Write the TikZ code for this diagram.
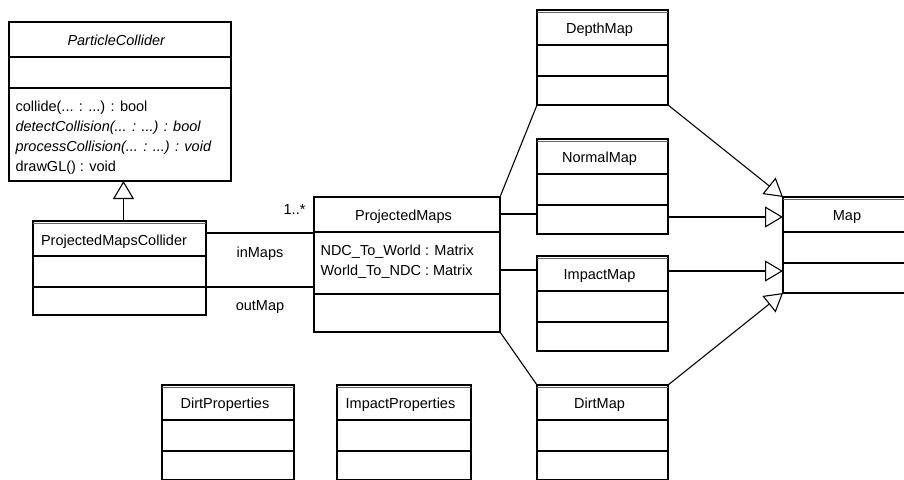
\documentclass[tikz,border=0pt]{standalone}
\usepackage{fontspec}
\setmainfont{Liberation Sans}
\usetikzlibrary{arrows.meta,positioning}

\tikzset{
	cls/.style={draw,anchor=north west,inner sep=0pt,outer sep=0pt},
	title/.style={anchor=base,inner sep=0pt},
	member/.style={anchor=base west,inner sep=0pt},
	lbl/.style={inner sep=0pt},
	isa/.style={-{Triangle[open,length=18pt,width=21pt]}},
}

\begin{document}
\begin{tikzpicture}[x=1pt,y=-1pt,line width=1.1pt,font=\fontsize{14.5}{20}\selectfont]
	\useasboundingbox (0,0) rectangle (904,479);
	\clip (0,0) rectangle (904,479);

	% class boxes
	\node[cls,minimum width=222,minimum height=159] (pc) at (9,22) {};
	\node[cls,minimum width=173,minimum height=94] (pmc) at (33,221) {};
	\node[cls,minimum width=186,minimum height=135] (pm) at (314,197) {};
	\node[cls,minimum width=134,minimum height=96] (map) at (783,197) {};
	\node[cls,minimum width=132,minimum height=95] (dirtprop) at (162,385) {};
	\node[cls,minimum width=134,minimum height=95] (impactprop) at (337,385) {};
	\foreach \n/\t/\y in {depth/DepthMap/10,normal/NormalMap/139,impact/ImpactMap/256,dirt/DirtMap/385}
	{
		\node[cls,minimum width=131,minimum height=95] (\n) at (537,\y) {};
		\node[title] (\n-t) at ([xshift=-3,yshift=-23.5]\n.north) {\t};
	}

	% compartments
	\foreach \c in {pc,pmc,depth,normal,impact,dirt,map,dirtprop,impactprop}
	{
		\draw ([yshift=-35]\c.north west) -- ([yshift=-35]\c.north east);
		\draw ([yshift=-66]\c.north west) -- ([yshift=-66]\c.north east);
	}
	\draw ([yshift=-35]pm.north west) -- ([yshift=-35]pm.north east);
	\draw ([yshift=-97]pm.north west) -- ([yshift=-97]pm.north east);
	\foreach \c in {pmc,depth,normal,impact,dirt,map,dirtprop,impactprop}
		\draw[line width=0.5pt,black!60] ([yshift=-2.6]\c.north west) -- ([yshift=-2.6]\c.north east);

	% titles and members
	\node[title] (pc-t) at ([xshift=-3.5,yshift=-23.5]pc.north) {\textit{ParticleCollider}};
	\node[member] (pc-op1) at ([xshift=6,yshift=-89]pc.north west) {collide(... : ...) : bool};
	\node[member] (pc-op2) at ([xshift=6,yshift=-109]pc.north west) {\textit{detectCollision(... : ...) : bool}};
	\node[member] (pc-op3) at ([xshift=6,yshift=-129]pc.north west) {\textit{processCollision(... : ...) : void}};
	\node[member] (pc-op4) at ([xshift=6,yshift=-149]pc.north west) {drawGL() : void};
	\node[member] (pmc-t) at ([xshift=7.5,yshift=-24]pmc.north west) {ProjectedMapsCollider};
	\node[title] (pm-t) at ([xshift=-3.5,yshift=-23.5]pm.north) {ProjectedMaps};
	\node[member] (pm-a1) at ([xshift=6,yshift=-58]pm.north west) {NDC\_To\_World : Matrix};
	\node[member] (pm-a2) at ([xshift=6,yshift=-78]pm.north west) {World\_To\_NDC : Matrix};
	\node[title] (map-t) at ([xshift=-3,yshift=-23.5]map.north) {Map};
	\node[title] (dirtprop-t) at ([xshift=-3,yshift=-23.5]dirtprop.north) {DirtProperties};
	\node[title] (impactprop-t) at ([xshift=-3.5,yshift=-23.5]impactprop.north) {ImpactProperties};

	% generalisation
	\coordinate (pmc-up) at ([xshift=4]pmc.north);
	\draw[isa] (pmc-up) -- (pmc-up |- pc.south);
	\coordinate (normal-o) at ([yshift=-78]normal.north east);
	\coordinate (impact-o) at ([yshift=-15]impact.north east);
	\draw[isa] (depth.south east) -- (map.north west);
	\draw[isa] (normal-o) -- (normal-o -| map.west);
	\draw[isa] (impact-o) -- (impact-o -| map.west);
	\draw[isa] (dirt.north east) -- (map.south west);

	% associations
	\coordinate (pmc-in) at ([yshift=-12]pmc.north east);
	\coordinate (pmc-out) at ([yshift=-66]pmc.north east);
	\draw (pmc-in) -- node[lbl,pos=0.82,above=18pt] (mult) {1..*} node[lbl,pos=0.5,below=13pt] (inmaps) {inMaps} (pmc-in -| pm.west);
	\draw (pmc-out) -- node[lbl,pos=0.5,below=13pt] (outmap) {outMap} (pmc-out -| pm.west);
	\coordinate (pm-n) at ([yshift=-17]pm.north east);
	\coordinate (pm-i) at ([yshift=-73]pm.north east);
	\draw (pm.north east) -- (depth.south west);
	\draw (pm-n) -- (pm-n -| normal.west);
	\draw (pm-i) -- (pm-i -| impact.west);
	\draw (pm.south east) -- (dirt.north west);
\end{tikzpicture}
\end{document}
